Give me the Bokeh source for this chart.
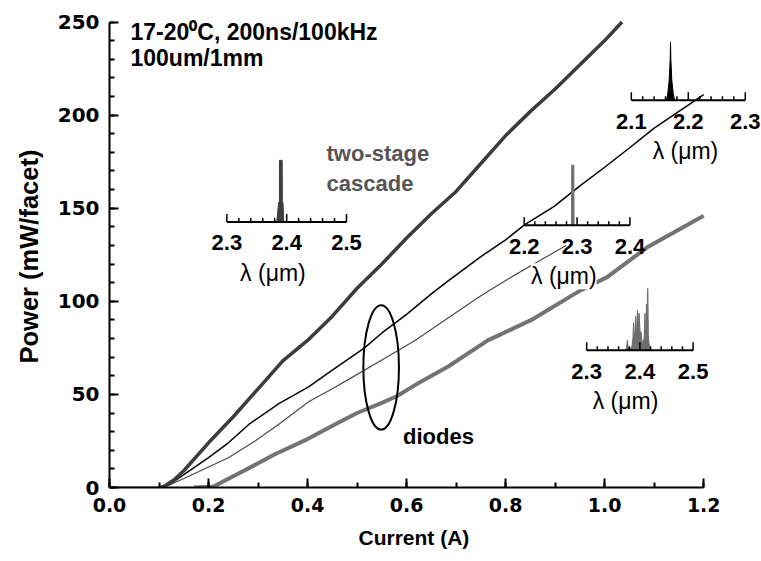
from bokeh.plotting import figure
from bokeh.models import Range1d, SingleIntervalTicker, PrintfTickFormatter, Title
from bokeh.core.properties import value
from bokeh.embed import file_html
from bokeh.resources import INLINE

# ---- L-I characteristics: drive current (A) vs peak power (mW/facet) ----
cascade_current = [0.10, 0.11, 0.13, 0.15, 0.20, 0.25, 0.30, 0.35, 0.40, 0.45, 0.50, 0.55,
                   0.60, 0.65, 0.70, 0.75, 0.80, 0.85, 0.90, 0.95, 1.00, 1.035]
cascade_power = [0, 0.5, 4, 9, 24, 38, 53, 68, 79, 92, 107, 120,
                 134, 147, 159, 174, 189, 202, 214, 227, 240, 250]

diode_a_current = [0.0, 0.11, 0.134, 0.20, 0.24, 0.282, 0.342, 0.402, 0.45, 0.515, 0.55, 0.60,
                   0.65, 0.684, 0.75, 0.80, 0.838, 0.898, 0.95, 1.00, 1.053, 1.10, 1.15, 1.20]
diode_a_power = [0, 0, 4, 16, 24, 34, 45, 54, 63, 75, 83, 93,
                 104, 111, 124, 133, 141, 151, 162, 172, 183, 193, 202, 211]

diode_b_current = [0.0, 0.11, 0.16, 0.20, 0.24, 0.294, 0.342, 0.402, 0.45, 0.489, 0.55, 0.617,
                   0.70, 0.75, 0.805, 0.87, 0.922]
diode_b_power = [0, 0, 6, 11, 16, 25, 34, 46, 53, 59, 68.5, 79,
                 94, 103, 112, 122, 130]

diode_c_current = [0.17, 0.21, 0.25, 0.30, 0.335, 0.40, 0.456, 0.50, 0.55, 0.58, 0.617, 0.684,
                   0.764, 0.852, 0.952, 1.005, 1.086, 1.20]
diode_c_power = [0, 0.5, 6, 13, 18, 26, 34, 40, 45.5, 49, 55, 65,
                 79, 90, 106, 113, 129, 146]

# ---- emission spectra: wavelength (um) vs normalized intensity ----
spec_cascade_wl = [2.3835, 2.3845, 2.3865, 2.3878, 2.3880, 2.3925, 2.3928, 2.3940, 2.3950]
spec_cascade_int = [0, 0.1, 0.32, 0.33, 1.0, 1.0, 0.33, 0.3, 0]

spec_a_wl = [2.162, 2.164, 2.1665, 2.1682, 2.1688, 2.1694, 2.171, 2.1735, 2.176]
spec_a_int = [0, 0.12, 0.35, 0.7, 1.0, 0.7, 0.35, 0.12, 0]

spec_b_wl = [2.2895, 2.2900, 2.2938, 2.2943]
spec_b_int = [0, 1.0, 1.0, 0]

spec_c_wl = [2.373, 2.375, 2.3765, 2.378, 2.385, 2.387, 2.388, 2.389, 2.3905, 2.392, 2.393,
             2.394, 2.3955, 2.397, 2.3985, 2.400, 2.401, 2.402, 2.404, 2.406, 2.408, 2.4095,
             2.410, 2.411, 2.4125, 2.4135, 2.4143, 2.4150, 2.4158, 2.417, 2.419, 2.421]
spec_c_int = [0, 0.05, 0.16, 0.03, 0.05, 0.2, 0.45, 0.3, 0.2, 0.55, 0.3,
              0.35, 0.65, 0.4, 0.6, 0.35, 0.25, 0.3, 0.15, 0.12, 0.2, 0.6,
              0.3, 0.35, 0.75, 0.4, 1.0, 1.0, 0.25, 0.12, 0.03, 0]

# ---- figure ----
W, H = 761, 561
LEFT, BOTTOM = 107, 74
PX_PER_A = 496.7
PX_PER_MW = 1.862
X_END = (W - LEFT) / PX_PER_A     # extra room on the right for the inset spectra
Y_END = (H - BOTTOM) / PX_PER_MW  # extra room on top for the annotation text

p = figure(width=W, height=H, output_backend="svg", toolbar_location=None,
           x_range=Range1d(0, X_END), y_range=Range1d(0, Y_END),
           min_border_left=LEFT, min_border_bottom=BOTTOM,
           min_border_right=0, min_border_top=0)
p.outline_line_color = None
p.grid.visible = False
p.background_fill_color = "white"
p.border_fill_color = "white"

p.xaxis.ticker = SingleIntervalTicker(interval=0.2, num_minor_ticks=2)
p.xaxis.formatter = PrintfTickFormatter(format="%.1f")
p.xaxis.bounds = (0, 1.2 + 1e-9)
p.yaxis.ticker = SingleIntervalTicker(interval=50, num_minor_ticks=5)
p.yaxis.bounds = (0, 250)

for ax in (p.xaxis, p.yaxis):
    ax.axis_line_width = 2
    ax.axis_line_color = "black"
    ax.major_tick_in = 9
    ax.major_tick_out = 0
    ax.minor_tick_in = 5
    ax.minor_tick_out = 0
    ax.major_tick_line_width = 2
    ax.minor_tick_line_width = 2
    ax.major_tick_line_color = "black"
    ax.minor_tick_line_color = "black"
    ax.major_label_text_font = "DejaVu Sans"
    ax.major_label_text_font_style = "bold"
    ax.major_label_text_color = "black"
    ax.major_label_standoff = 10

p.xaxis.major_label_text_font_size = "19px"
p.yaxis.major_label_text_font_size = "20px"

# axis titles, placed along the bounded axis extents (offsets in pixels from the frame edge)
p.add_layout(Title(text="Current (A)", align="left", offset=249, standoff=18,
                   text_font="Liberation Sans", text_font_style="bold",
                   text_font_size="21px", text_color="black"), "below")
p.add_layout(Title(text="Power (mW/facet)", align="left", offset=124, standoff=24,
                   text_font="Liberation Sans", text_font_style="bold",
                   text_font_size="25.5px", text_color="black"), "left")

# ---- L-I curves ----
p.line(diode_c_current, diode_c_power, line_color="#737373", line_width=4, line_join="round")
p.line(diode_b_current, diode_b_power, line_color="#4a4a4a", line_width=1.2, line_join="round")
p.line(diode_a_current, diode_a_power, line_color="black", line_width=1.5, line_join="round")
p.line(cascade_current, cascade_power, line_color="#3c3c3c", line_width=3.5, line_join="round")

# ellipse grouping the diode curves
p.ellipse(x=[0.5486], y=[64.5], width=[0.0719], height=[66.8],
          fill_color=None, line_color="black", line_width=2)

# ---- inset spectra, each on its own small wavelength axis ----
insets = [
    dict(wl=spec_cascade_wl, it=spec_cascade_int, lam=(2.3, 2.5), x=(0.237, 0.4786),
         base=142.6, h=33.1, color="#3e3e3e", label_at=2.377),
    dict(wl=spec_a_wl, it=spec_a_int, lam=(2.1, 2.3), x=(1.0538, 1.2839),
         base=208.0, h=31.3, color="black", label_at=2.195),
    dict(wl=spec_b_wl, it=spec_b_int, lam=(2.2, 2.4), x=(0.8375, 1.051),
         base=140.9, h=32.2, color="#6e6e6e", label_at=2.275),
    dict(wl=spec_c_wl, it=spec_c_int, lam=(2.3, 2.5), x=(0.9636, 1.1786),
         base=73.7, h=33.1, color="#6e6e6e", label_at=2.373),
]

for ins in insets:
    l0, l1 = ins["lam"]
    c0, c1 = ins["x"]
    base, h = ins["base"], ins["h"]

    def to_x(lam, l0=l0, l1=l1, c0=c0, c1=c1):
        return c0 + (lam - l0) / (l1 - l0) * (c1 - c0)

    xs = [to_x(w) for w in ins["wl"]]
    ys = [base + v * h for v in ins["it"]]
    p.varea(x=xs, y1=[base] * len(xs), y2=ys, fill_color=ins["color"])
    p.line(xs, ys, line_color=ins["color"], line_width=1)

    # axis line and ticks every 0.02 um
    p.segment(x0=[to_x(l0)], y0=[base], x1=[to_x(l1)], y1=[base],
              line_color="black", line_width=2)
    tick_l = [l0 + k * 0.02 for k in range(11)]
    tick_len = [(8 if k % 5 == 0 else 4) / PX_PER_MW for k in range(11)]
    p.segment(x0=[to_x(t) for t in tick_l], y0=[base] * 11,
              x1=[to_x(t) for t in tick_l], y1=[base + d for d in tick_len],
              line_color="black", line_width=1.5)

    majors = [l0, (l0 + l1) / 2, l1]
    p.text(x=[to_x(m) for m in majors], y=[base] * 3, text=["%.1f" % m for m in majors],
           text_font=value("Liberation Sans"), text_font_style="bold", text_font_size="22px",
           text_align="center", text_baseline="middle", y_offset=21, text_color="black")
    p.text(x=[to_x(ins["label_at"])], y=[base], text=["\u03bb (\u03bcm)"],
           text_font=value("Liberation Sans"), text_font_size="23px",
           text_align="center", text_baseline="middle", y_offset=51, text_color="black",
           background_fill_color="white")

# ---- annotations ----
p.text(x=[0.0424], y=[244.7], text=["17-20\u2070C, 200ns/100kHz"],
       text_font=value("Liberation Sans"), text_font_style="bold", text_font_size="23px",
       text_baseline="alphabetic", text_color="black")
p.text(x=[0.0424], y=[230.4], text=["100um/1mm"],
       text_font=value("Liberation Sans"), text_font_style="bold", text_font_size="23px",
       text_baseline="alphabetic", text_color="black")
p.text(x=[0.4383, 0.4383], y=[179.4, 163.3], text=["two-stage", "cascade"],
       text_font=value("Liberation Sans"), text_font_style="bold", text_font_size="22px",
       text_baseline="alphabetic", text_color="#555555")
p.text(x=[0.5927], y=[27.2], text=["diodes"],
       text_font=value("Liberation Sans"), text_font_style="bold", text_font_size="22px",
       text_baseline="alphabetic", text_color="black")

open("out.html", "w").write(file_html(p, INLINE))
